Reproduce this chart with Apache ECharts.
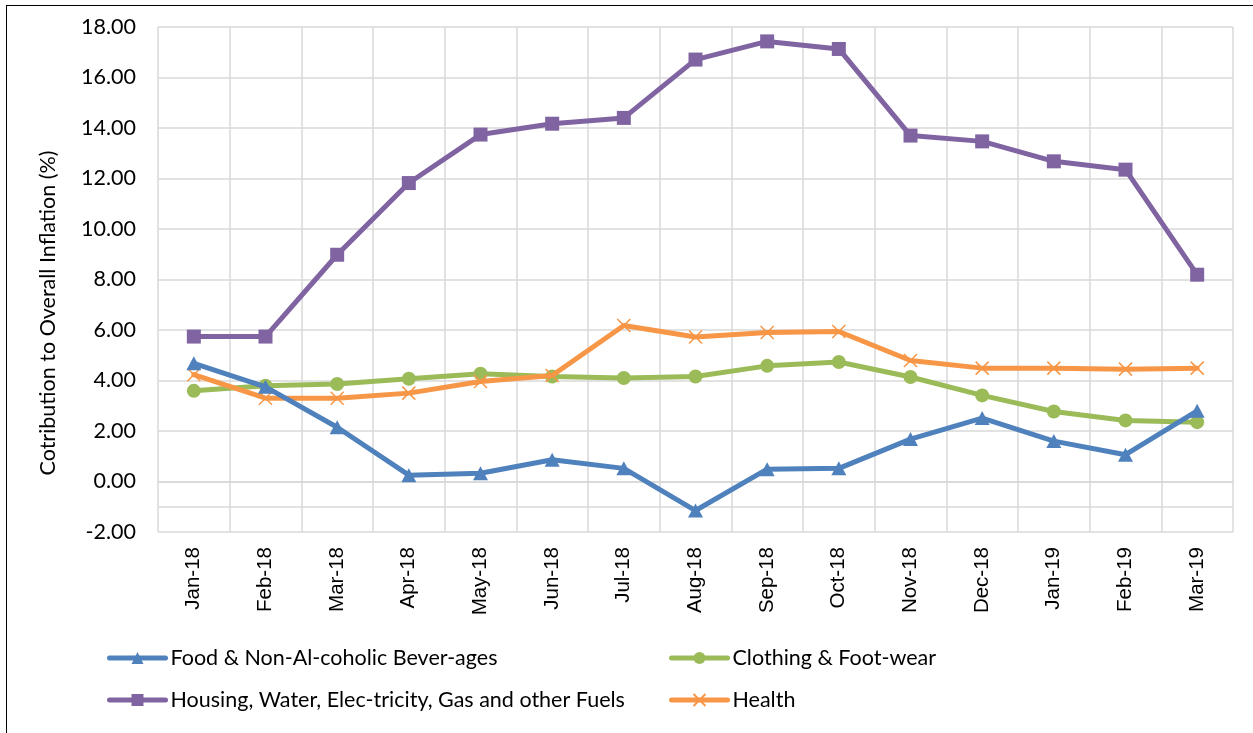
<!DOCTYPE html>
<html><head><meta charset="utf-8">
<script src="https://cdn.jsdelivr.net/npm/echarts@6/dist/echarts.min.js"></script>
<style>
html,body{margin:0;padding:0;background:#fff;overflow:hidden}
#frame{position:absolute;left:6px;top:5px;width:1400px;height:900px;border:1.5px solid #000;box-sizing:border-box}
#c{position:absolute;left:0;top:0;width:1253px;height:733px}
</style></head>
<body><div id="frame"></div><div id="c"></div>
<script>
const categories = ["Jan-18","Feb-18","Mar-18","Apr-18","May-18","Jun-18","Jul-18","Aug-18","Sep-18","Oct-18","Nov-18","Dec-18","Jan-19","Feb-19","Mar-19"];
const food = [4.68,3.75,2.15,0.25,0.33,0.86,0.52,-1.15,0.49,0.52,1.68,2.51,1.60,1.06,2.80];
const clothing = [3.59,3.79,3.86,4.07,4.27,4.16,4.10,4.16,4.58,4.73,4.14,3.41,2.77,2.42,2.35];
const housing = [5.74,5.74,8.98,11.82,13.74,14.17,14.40,16.71,17.43,17.13,13.70,13.47,12.68,12.35,8.19];
const health = [4.23,3.30,3.30,3.50,3.96,4.20,6.18,5.72,5.90,5.94,4.79,4.49,4.49,4.45,4.49];
const yTicks = {min:-2, max:18, interval:2};
const names = ["Food & Non-Al-coholic Bever-ages","Clothing & Foot-wear","Housing, Water, Elec-tricity, Gas and other Fuels","Health"];
const yTitle = 'Cotribution to Overall Inflation (%)';

const font = "Lato, 'Liberation Sans', sans-serif";
const chart = echarts.init(document.getElementById('c'), null, {renderer:'canvas'});
function mkLegend(name, left, top){
  return {data:[name], left:left, top:top, padding:0, itemWidth:56, itemHeight:15, itemGap:5,
    lineStyle:{width:5, cap:'round'},
    textStyle:{fontFamily:font, fontSize:21.5, color:'#000'}, selectedMode:false};
}
chart.setOption({
  animation:false,
  grid:{left:158, right:20, top:27, bottom:201, containLabel:false},
  graphic:[{type:'text', x:48, y:313, rotation:Math.PI/2,
    style:{text:yTitle, fontFamily:font, fontSize:21.5, fill:'#000', align:'center', verticalAlign:'middle'}}],
  xAxis:{type:'category', data:categories, boundaryGap:true,
    axisLine:{show:true, lineStyle:{color:'#d9d9d9', width:1.5}},
    axisTick:{show:false},
    splitLine:{show:true, interval:0, lineStyle:{color:'#d9d9d9', width:1.5}},
    axisLabel:{rotate:90, interval:0, fontFamily:"'Liberation Sans', Arial, sans-serif", fontSize:20.5, color:'#000', margin:15}},
  yAxis:{type:'value', min:yTicks.min, max:yTicks.max, interval:yTicks.interval,
    axisLine:{show:false}, axisTick:{show:false},
    splitLine:{show:true, lineStyle:{color:'#d9d9d9', width:1.5}},
    axisLabel:{fontFamily:font, fontSize:21.5, color:'#000', margin:22, formatter:v=>v.toFixed(2)}},
  legend:[mkLegend(names[0],107,647), mkLegend(names[1],669,647), mkLegend(names[2],107,689), mkLegend(names[3],669,689)],
  series:[
    {name:names[1], type:'line', data:clothing, symbol:'circle', symbolSize:14,
      lineStyle:{color:'#9BBB59', width:5, cap:'round'}, itemStyle:{color:'#9BBB59'}, z:2},
    {name:names[3], type:'line', data:health, symbol:'path://M0,0 L10,10 M10,0 L0,10', symbolSize:13,
      lineStyle:{color:'#F79646', width:5, cap:'round'}, itemStyle:{color:'#F79646', borderColor:'#F79646', borderWidth:1.5}, z:3},
    {name:names[0], type:'line', data:food, symbol:'triangle', symbolSize:[15,14],
      lineStyle:{color:'#4F81BD', width:5, cap:'round'}, itemStyle:{color:'#4F81BD'}, z:4,
      markLine:{silent:true, symbol:'none', label:{show:false}, lineStyle:{color:'#d9d9d9', width:1.5, type:'solid'}, data:[{yAxis:-1}], z:0}},
    {name:names[2], type:'line', data:housing, symbol:'rect', symbolSize:14,
      lineStyle:{color:'#8064A2', width:5, cap:'round'}, itemStyle:{color:'#8064A2'}, z:5}
  ]
});
</script></body></html>
